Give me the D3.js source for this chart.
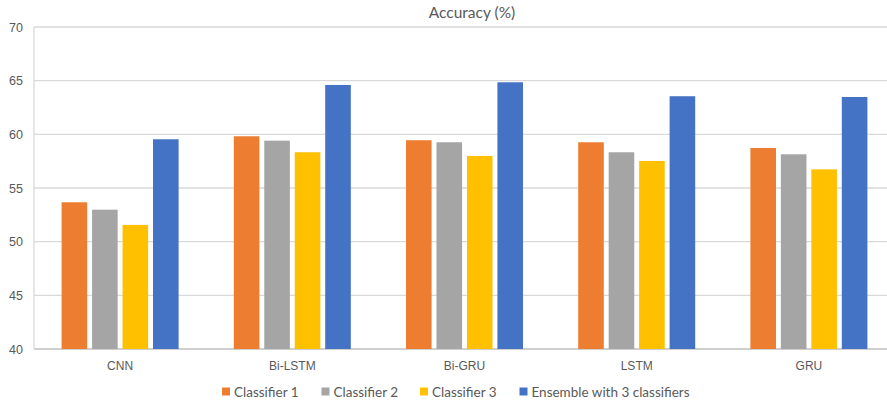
<!DOCTYPE html>
<html>
<head>
<meta charset="utf-8">
<script src="https://cdn.jsdelivr.net/npm/d3@7/dist/d3.min.js"></script>
<style>
  html, body { margin: 0; padding: 0; background: #fff; }
  svg { display: block; font-family: Lato, "Open Sans", sans-serif; }
</style>
</head>
<body>
<svg id="chart" width="887" height="405"></svg>
<script>
// Accuracy of each model family with three single classifiers and their ensemble
const categories = ["CNN", "Bi-LSTM", "Bi-GRU", "LSTM", "GRU"];
const seriesNames = ["Classifier 1", "Classifier 2", "Classifier 3", "Ensemble with 3 classifiers"];
const classifier1 = [53.67, 59.82, 59.45, 59.26, 58.73];
const classifier2 = [52.98, 59.41, 59.26, 58.33, 58.14];
const classifier3 = [51.56, 58.33, 57.99, 57.52, 56.74];
const ensemble    = [59.54, 64.60, 64.85, 63.55, 63.48];
const yTicks = [40, 45, 50, 55, 60, 65, 70];
const colors = ["#ED7D31", "#A5A5A5", "#FFC000", "#4472C4"];

const seriesValues = [classifier1, classifier2, classifier3, ensemble];

const svg = d3.select("#chart");
const plot = { left: 34, right: 895, top: 27, bottom: 349 };

const y = d3.scaleLinear().domain([40, 70]).range([plot.bottom, plot.top]);
const x0 = d3.scaleBand().domain(categories).range([plot.left, plot.right]).padding(0);
const x1 = d3.scaleBand().domain(seriesNames).range([27.6, x0.bandwidth() - 27.6]).paddingInner(0.16);

// horizontal gridlines
svg.append("g")
  .selectAll("line")
  .data(yTicks)
  .join("line")
  .attr("x1", plot.left).attr("x2", plot.right)
  .attr("y1", d => y(d)).attr("y2", d => y(d))
  .attr("stroke", d => d === 40 ? "#bfbfbf" : "#d9d9d9")
  .attr("stroke-width", 1.3);

// left border of the plot area
svg.append("line")
  .attr("x1", plot.left).attr("x2", plot.left)
  .attr("y1", plot.top).attr("y2", plot.bottom)
  .attr("stroke", "#d9d9d9").attr("stroke-width", 1.3);

// y tick labels
const yAxis = d3.axisLeft(y).tickValues(yTicks).tickSize(0).tickPadding(11);
const gy = svg.append("g").attr("transform", `translate(${plot.left},0)`).call(yAxis);
gy.select(".domain").remove();
gy.selectAll("text").attr("fill", "#595959").attr("font-size", 12.5);

// bars
const groups = svg.append("g")
  .selectAll("g")
  .data(categories)
  .join("g")
  .attr("transform", d => `translate(${x0(d)},0)`);

groups.selectAll("rect")
  .data((d, i) => seriesNames.map((s, j) => ({ s, v: seriesValues[j][i], c: colors[j] })))
  .join("rect")
  .attr("x", d => x1(d.s))
  .attr("width", x1.bandwidth())
  .attr("y", d => y(d.v))
  .attr("height", d => y(40) - y(d.v))
  .attr("fill", d => d.c);

// category labels
const xAxis = d3.axisBottom(x0).tickSize(0).tickPadding(12);
const gx = svg.append("g").attr("transform", `translate(0,${plot.bottom})`).call(xAxis);
gx.select(".domain").remove();
gx.selectAll("text").attr("fill", "#595959").attr("font-size", 12);

// title
svg.append("text")
  .attr("x", 472).attr("y", 18)
  .attr("text-anchor", "middle")
  .attr("fill", "#595959")
  .attr("font-size", 15.5)
  .text("Accuracy (%)");

// legend
const legendX = [222, 321.5, 420, 519.5];
const legend = svg.append("g")
  .selectAll("g")
  .data(seriesNames)
  .join("g")
  .attr("transform", (d, i) => `translate(${legendX[i]},392)`);
legend.append("rect")
  .attr("x", 0).attr("y", -4.5).attr("width", 8).attr("height", 8)
  .attr("fill", (d, i) => colors[i]);
legend.append("text")
  .attr("x", 12).attr("y", 0)
  .attr("dy", "0.35em")
  .attr("fill", "#595959")
  .attr("font-size", 13.5)
  .text(d => d);
</script>
</body>
</html>
